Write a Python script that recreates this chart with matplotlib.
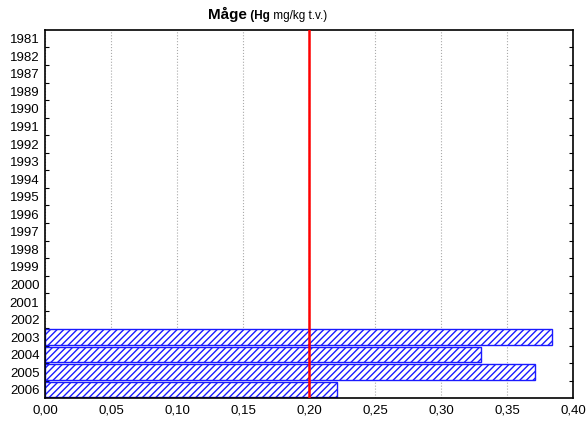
import numpy as np
import matplotlib.pyplot as plt

plt.rcParams['font.family'] = ['Liberation Sans', 'DejaVu Sans']

# data
years = ['1981', '1982', '1987', '1989', '1990', '1991', '1992', '1993', '1994',
         '1995', '1996', '1997', '1998', '1999', '2000', '2001', '2002',
         '2003', '2004', '2005', '2006']
hg = [0, 0, 0, 0, 0, 0, 0, 0, 0, 0, 0, 0, 0, 0, 0, 0, 0,
      0.384, 0.330, 0.371, 0.221]
limit = 0.20
xticks = [0.0, 0.05, 0.10, 0.15, 0.20, 0.25, 0.30, 0.35, 0.40]

fig = plt.figure(figsize=(5.88, 4.26), dpi=100)
ax = fig.add_axes([0.0765, 0.0657, 0.898, 0.864])

pos = np.arange(len(years))[::-1]
vals = np.array(hg)
mask = vals > 0
ax.barh(pos[mask], vals[mask], height=0.88, color='white', edgecolor='#1a1aff',
        hatch='/////', linewidth=1.0, zorder=2)

ax.axvline(limit, color='#ff0000', linewidth=1.8, zorder=3)

ax.set_xlim(0, 0.40)
ax.set_ylim(-0.47, len(years) - 0.5)
ax.set_xticks(xticks)
ax.set_xticklabels([('%.2f' % t).replace('.', ',') for t in xticks])
ax.xaxis.grid(True, linestyle=':', color='#aaaaaa', linewidth=0.8, zorder=0)
ax.tick_params(axis='x', length=0, pad=5, labelsize=9.5)

ax.set_yticks(pos, minor=True)
ax.set_yticklabels(years, minor=True)
ax.set_yticks(np.arange(len(years) - 1) + 0.5)
ax.set_yticklabels([])
ax.tick_params(axis='y', which='major', direction='in', length=3, left=True, right=True)
ax.tick_params(axis='y', which='minor', length=0, pad=4, labelsize=9.5)

for s in ax.spines.values():
    s.set_linewidth(1.2)

t1 = ax.text(0.309, 1.022, 'Måge', transform=ax.transAxes, fontsize=11,
             fontweight='bold', ha='left', va='bottom')
t2 = ax.annotate(' (Hg', xy=(1, 0), xycoords=t1, fontsize=8.5, fontweight='bold',
                 va='bottom')
ax.annotate(' mg/kg t.v.)', xy=(1, 0), xycoords=t2, fontsize=8.5, va='bottom')

fig.savefig('out.png', dpi=100)
